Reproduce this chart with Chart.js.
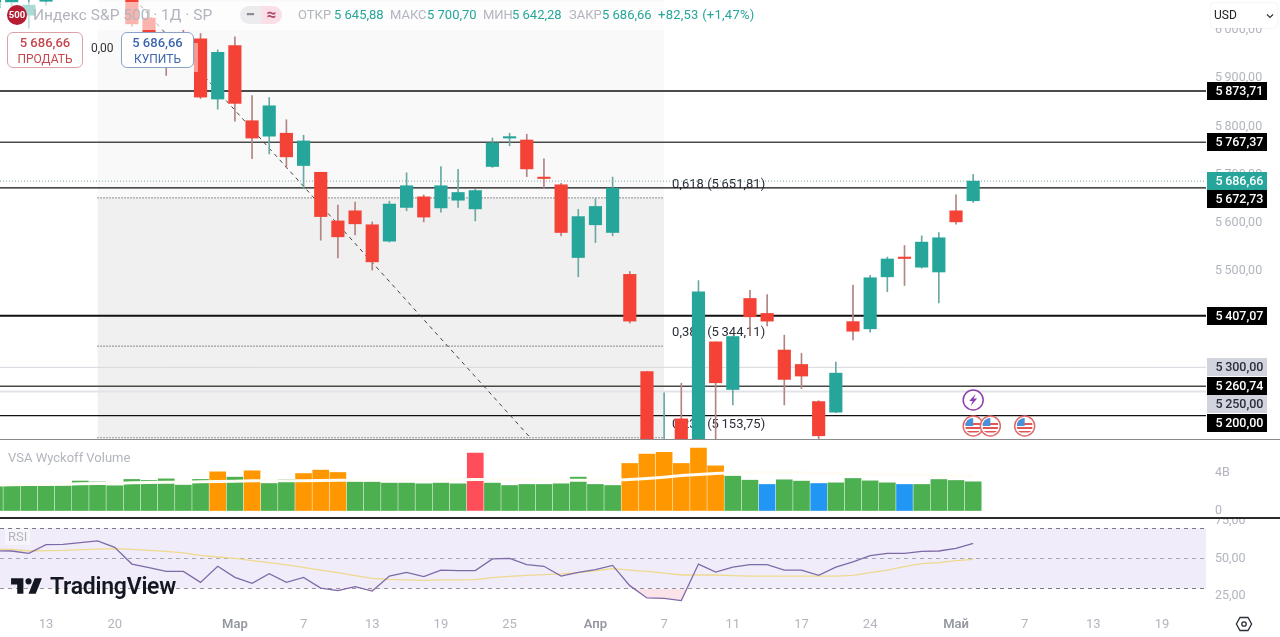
<!DOCTYPE html>
<html lang="ru">
<head>
<meta charset="utf-8">
<title>S&amp;P 500</title>
<script src="https://cdn.jsdelivr.net/npm/chart.js@4/dist/chart.umd.min.js"></script>
<style>
html,body{margin:0;padding:0;background:#fff;overflow:hidden}
body{width:1280px;height:637px;position:relative;font-family:Roboto,"Noto Sans",sans-serif}
canvas{position:absolute;left:0}
.abs{position:absolute;white-space:nowrap}
.lbl{color:#b2b5be}
.val{color:#26a69a}
.btn{background:#fff;border-radius:6px;box-sizing:border-box;text-align:center;font-size:12px;line-height:16px;padding-top:2px}
.btn b{display:block;font-size:13px;font-weight:500}
</style>
</head>
<body>
<canvas id="chart-price" width="1280" height="439" style="top:0"></canvas>
<canvas id="chart-vol" width="1280" height="78" style="top:440px"></canvas>
<canvas id="chart-rsi" width="1280" height="119" style="top:518px"></canvas>

<!-- panes -->
<div class="abs" style="left:0;top:439px;width:1280px;height:1px;background:#8a8a8a"></div>
<div class="abs" style="left:0;top:517px;width:1280px;height:2px;background:#2a2a2a"></div>
<div class="abs lbl" style="left:8px;top:450px;font-size:13px">VSA Wyckoff Volume</div>
<div class="abs lbl" style="left:5px;top:529px;padding:0 3px;height:16px;line-height:16px;font-size:13px;background:rgba(255,255,255,.45)">RSI</div>

<!-- header -->
<div class="abs" style="left:0;top:2px;width:770px;height:28px;background:rgba(255,255,255,.6)"></div>
<div class="abs" style="left:194px;top:43px;width:4px;height:29px;background:rgba(255,255,255,.45)"></div>
<div class="abs" style="left:7px;top:5px;width:20px;height:20px;border-radius:50%;background:#b71c35;color:#fff;font-size:9.5px;font-weight:700;line-height:20px;text-align:center">500</div>
<div class="abs" style="left:33px;top:6px;font-size:15.5px;color:#b2b5be">Индекс S&amp;P 500 · 1Д · SP</div>
<div class="abs" style="left:240px;top:6px;width:21px;height:18px;background:#ececee;border-radius:9px 0 0 9px;color:#8a8d96;font-weight:900;font-size:17px;line-height:17px;text-align:center">−</div>
<div class="abs" style="left:261px;top:6px;width:21px;height:18px;background:#fadfe7;border-radius:0 9px 9px 0;color:#b0416a;font-weight:700;font-size:17px;line-height:17px;text-align:center">≈</div>
<div class="abs lbl" style="left:298px;top:7px;font-size:13px">ОТКР</div><div class="abs val" style="left:334px;top:7px;font-size:13px">5 645,88</div>
<div class="abs lbl" style="left:390px;top:7px;font-size:13px">МАКС</div><div class="abs val" style="left:427px;top:7px;font-size:13px">5 700,70</div>
<div class="abs lbl" style="left:483px;top:7px;font-size:13px">МИН</div><div class="abs val" style="left:512px;top:7px;font-size:13px">5 642,28</div>
<div class="abs lbl" style="left:569px;top:7px;font-size:13px">ЗАКР</div><div class="abs val" style="left:602px;top:7px;font-size:13px">5 686,66</div>
<div class="abs val" style="left:658px;top:7px;font-size:13px;letter-spacing:.25px">+82,53 (+1,47%)</div>

<div class="abs btn" style="left:7px;top:32px;width:76px;height:36px;border:1px solid #d9a3a6;color:#c4474d"><b>5 686,66</b>ПРОДАТЬ</div>
<div class="abs" style="left:91px;top:41px;font-size:12px;color:#333">0,00</div>
<div class="abs btn" style="left:121px;top:32px;width:73px;height:36px;border:1px solid #8ba3c7;color:#3f66ad"><b>5 686,66</b>КУПИТЬ</div>

<div class="abs" style="left:1211px;top:3px;width:66px;height:25px;background:#fff;border-radius:4px;box-shadow:0 0 2px rgba(0,0,0,.12);font-size:12px;line-height:25px;color:#222;text-indent:3px">USD
  <svg class="abs" style="left:55px;top:10px" width="8" height="6" viewBox="0 0 8 6"><path d="M1 1.5 4 4.5 7 1.5" fill="none" stroke="#333" stroke-width="1.2"/></svg>
</div>

<!-- logo -->
<svg class="abs" style="left:9px;top:572px" width="37" height="29" viewBox="0 0 36 28"><path fill="#131722" d="M14 6H2v6h6v9h6V6Zm12 15h-7l6-15h7l-6 15Zm-7-9a3 3 0 1 0 0-6 3 3 0 0 0 0 6Z"/></svg>
<div class="abs" style="left:50px;top:573px;font-size:23px;font-weight:600;color:#131722;letter-spacing:-.25px">TradingView</div>

<svg class="abs" style="left:1235px;top:615px" width="18" height="18" viewBox="0 0 18 18"><path d="M5 2.5h8L16.6 9 13 15.5H5L1.4 9Z" fill="none" stroke="#2a2e39" stroke-width="1.3"/><circle cx="9" cy="9" r="2.2" fill="none" stroke="#2a2e39" stroke-width="1.3"/></svg>

<script>
// ── Data ──

// trading days counted from 13 Feb, -3 is the first bar on the left
const days=[-3,-2,-1,0,1,2,3,4,5,6,7,8,9,10,11,12,13,14,15,16,17,18,19,20,21,22,23,24,25,26,27,28,29,30,31,32,33,34,35,36,37,38,39,40,41,42,43,44,45,46,47,48,49,50,51,52,53,54];
const opens=[6046,6058,6031,6060,6115,6121,6117,6134,6115,6025,5985,5970,5982,5857,5968,5812,5780,5786,5719,5705,5604,5625,5596,5562,5632,5654,5631,5647,5629,5717,5776,5772,5695,5679,5528,5596,5580,5493,5291,4953,5193,4965,5353,5254,5443,5412,5336,5306,5229,5207,5395,5380,5488,5529,5508,5498,5625,5645.88];
const highs=[6076,6076,6065,6118,6127,6130,6147,6140,6120,6043,5995,6000,5993,5959,5986,5864,5860,5814,5782,5705,5637,5643,5602,5645,5704,5658,5717,5711,5670,5776,5786,5784,5733,5682,5628,5650,5695,5499,5292,5247,5267,5480,5353,5365,5460,5451,5367,5329,5231,5311,5471,5491,5529,5553,5573,5580,5658,5700.70];
const lows=[6040,6050,6004,6052,6100,6100,6110,6105,6008,5970,5906,5930,5858,5836,5811,5733,5743,5714,5672,5564,5527,5575,5502,5560,5625,5602,5622,5632,5604,5715,5760,5696,5672,5573,5488,5559,5573,5392,5069,4835,4948,4950,5115,5222,5367,5386,5222,5256,5150,5206,5357,5373,5457,5470,5506,5434,5597,5642.28];
const closes=[6066,6068,6052,6115,6114,6129,6144,6117,6013,5983,5955,5956,5861,5954,5848,5776,5843,5737,5770,5613,5571,5598,5519,5639,5677,5612,5677,5663,5667,5766,5779,5712,5692,5580,5613,5634,5672,5396,5074,5062,4982,5457,5268,5364,5405,5396,5275,5282,5158,5288,5375,5486,5525,5526,5560,5569,5602,5686.66];

const volumes=[2.6,2.6,2.6,2.6,2.6,3.1,3.0,2.6,3.27,3.16,3.33,2.67,3.27,4.07,3.51,4.18,2.84,3.27,3.89,4.25,4.0,3.02,3.02,2.88,2.88,2.81,2.88,2.81,6.04,2.88,2.63,2.74,2.74,2.81,3.51,2.74,2.63,4.95,5.93,6.11,4.95,6.56,4.7,3.61,3.19,2.74,3.23,3.09,2.84,2.91,3.37,3.12,2.91,2.74,2.74,3.26,3.16,3.02];
const volumeMa=[2.67,2.70,2.74,2.74,2.77,2.81,2.84,2.84,2.91,2.95,2.98,2.98,3.02,3.05,3.09,3.12,3.12,3.12,3.12,3.16,3.19,3.19,3.19,3.19,3.19,3.19,3.19,3.23,3.26,3.26,3.23,3.23,3.19,3.19,3.19,3.19,3.19,3.26,3.37,3.51,3.68,3.79,3.89,3.96,4.0,4.0,4.0,3.96,3.93,3.89,3.86,3.82,3.79,3.75,3.72,3.68,3.65,3.61];
const orangeDays=[10,12,15,16,17,34,35,36,37,38,39];
const redDays=[25];
const blueDays=[42,45,50];

const rsi=[55.2,55.0,53.4,59.2,59.4,60.6,61.7,57.4,46.3,43.9,41.4,41.4,34.1,44.8,37.4,33.4,39.9,34.1,37.4,30.3,28.6,31.2,28.3,38.3,40.8,37.9,42.3,41.9,41.9,49.7,50.1,45.9,44.8,38.3,40.8,42.6,45.4,31.9,23.7,23.4,21.9,46.3,41,44.3,45.9,45.9,42.3,42.3,38.8,44.3,47.7,51.9,53.4,53.4,54.8,55,56.8,60.1];
const rsiMa=[56.3,56.1,55,55.2,55.4,55.9,56.3,56.6,56.1,55.4,54.8,53.7,52.1,51,50.1,48.6,47.2,45.7,44.1,42.3,40.6,38.6,36.8,36.1,35.7,35.4,35.7,35.7,35.9,37.2,38.1,38.8,39.2,39.7,40.6,41.7,43.2,42.3,41.4,40.3,39,39,39,38.6,38.3,38.3,38.3,38.3,38.3,38.3,38.8,40.6,42.3,44.6,46.6,47.2,48.6,49.4];

const tickDays=[0,4,11,15,19,23,27,32,36,40,44,48,53,57,61,65];
const tickLabels=['13','20','Мар','7','13','19','25','Апр','7','11','17','24','Май','7','13','19'];
const monthDays=[11,32,53];

const priceTicks=[5500,5600,5700,5800,5900,6000];
const blackLevels=[5873.71,5767.37,5672.73,5407.07,5260.74,5200];
const greyLevels=[5300,5250];
const lastPrice=5686.66;

const fibDays=[3,36];
const fibEnds=[6150,4846];
const fibValues=[5651.81,5344.11,5153.75];
const fibNames=['0,618','0,382','0,236'];

const splitDays=[54];
const flagDays=[54,55,57];

// ── Shared options ──

const FONT='Roboto,"Noto Sans",sans-serif';
const GREY='#b2b5be',UP='#26a69a',DOWN='#f44336';
const X_MIN=-2.68,X_MAX=67.56;   // left edge at 0 px, right edge at 1206 px

function fmt(v){
  const s=v.toFixed(2).replace('.',',');
  return s[0]+'\u2009'+s.slice(1);
}
const isMonth=c=>!!c.tick&&monthDays.includes(c.tick.value);

function xAxis(show){
  return {type:'linear',display:show,min:X_MIN,max:X_MAX,offset:false,
    grid:{display:false,drawTicks:false},border:{display:false},
    afterBuildTicks:a=>{a.ticks=tickDays.map(v=>({value:v}));},
    afterFit:a=>{a.paddingLeft=a.paddingRight=0;if(show)a.height=29;},
    ticks:{autoSkip:false,maxRotation:0,padding:9,
      color:c=>isMonth(c)?'#9598a1':GREY,
      font:c=>({family:FONT,size:13,weight:isMonth(c)?'600':'400'}),
      callback:v=>tickLabels[tickDays.indexOf(v)]}};
}
function yAxis(min,max,vals,cb){
  return {position:'right',min,max,
    grid:{display:false,drawTicks:false},border:{display:false},
    afterBuildTicks:a=>{a.ticks=vals.map(v=>({value:v}));},
    afterFit:a=>{a.width=74;a.paddingTop=a.paddingBottom=0;},
    ticks:{autoSkip:false,padding:9,color:GREY,font:{family:FONT,size:12.5},callback:cb}};
}
function options(x,y){
  return {responsive:false,animation:false,events:[],
    layout:{padding:0,autoPadding:false},
    plugins:{legend:{display:false},tooltip:{enabled:false}},
    scales:{x,y}};
}
function hLine(v,color,width,dash,order){
  return {type:'line',data:[{x:X_MIN,y:v},{x:X_MAX,y:v}],borderColor:color,borderWidth:width,
    borderDash:dash||[],pointRadius:0,order};
}
function segment(v,color,dash,order){
  return {type:'line',data:fibDays.map(d=>({x:d,y:v})),borderColor:color,borderWidth:1,
    borderDash:dash,pointRadius:0,order};
}
function zone(top,bottom,color){
  return {type:'line',data:fibDays.map(d=>({x:d,y:top})),borderWidth:0,borderColor:'transparent',
    backgroundColor:color,fill:{value:bottom},pointRadius:0,order:30};
}

// ── Price pane plugin: fib captions, event icons, axis badges ──

const badges=[
  {v:5873.71,bg:'#000',fg:'#fff',nudge:0},
  {v:5767.37,bg:'#000',fg:'#fff',nudge:0},
  {v:5686.66,bg:UP,fg:'#fff',nudge:0},
  {v:5672.73,bg:'#000',fg:'#fff',nudge:11.5},
  {v:5407.07,bg:'#000',fg:'#fff',nudge:0},
  {v:5300,bg:'#d1d4dc',fg:'#2a2e39',nudge:0},
  {v:5260.74,bg:'#000',fg:'#fff',nudge:0},
  {v:5250,bg:'#d1d4dc',fg:'#2a2e39',nudge:12.5},
  {v:5200,bg:'#000',fg:'#fff',nudge:7}
];

function flagIcon(ctx,x,y){
  ctx.save();
  ctx.beginPath();ctx.arc(x,y,10,0,Math.PI*2);ctx.fillStyle='#fff';ctx.fill();
  ctx.strokeStyle='#e06a6a';ctx.lineWidth=1.5;ctx.stroke();
  ctx.beginPath();ctx.arc(x,y,8,0,Math.PI*2);ctx.clip();
  ctx.fillStyle='#e25555';
  ctx.fillRect(x-8,y-3,16,2);ctx.fillRect(x-8,y+1,16,2);ctx.fillRect(x-8,y+5,16,1.5);
  ctx.fillStyle='#4a90d9';ctx.fillRect(x-8,y-8,8,8);
  ctx.restore();
}
function splitIcon(ctx,x,y){
  ctx.save();
  ctx.beginPath();ctx.arc(x,y,10,0,Math.PI*2);ctx.fillStyle='#fff';ctx.fill();
  ctx.strokeStyle='#8e3fae';ctx.lineWidth=1.5;ctx.stroke();
  ctx.fillStyle='#8e3fae';
  ctx.beginPath();ctx.moveTo(x+2.5,y-6);ctx.lineTo(x-4,y+1);ctx.lineTo(x-.5,y+1);ctx.lineTo(x-2.5,y+6);
  ctx.lineTo(x+4,y-1.5);ctx.lineTo(x+.5,y-1.5);ctx.closePath();ctx.fill();
  ctx.restore();
}

const pricePlugin={
  id:'priceExtras',
  beforeDatasetsDraw(chart){
    const {ctx,scales:{x,y}}=chart;
    ctx.save();
    ctx.font='13px '+FONT;ctx.fillStyle='#2a2e39';ctx.textBaseline='middle';
    fibValues.forEach((v,i)=>ctx.fillText(fibNames[i]+' ('+fmt(v)+')',x.getPixelForValue(fibDays[1])+8,y.getPixelForValue(v)-13.5));
    ctx.restore();
  },
  afterDatasetsDraw(chart){
    const {ctx,scales:{x}}=chart;
    splitDays.forEach(d=>splitIcon(ctx,x.getPixelForValue(d),400));
    flagDays.forEach(d=>flagIcon(ctx,x.getPixelForValue(d),426));
  },
  afterDraw(chart){
    const {ctx,scales:{y}}=chart;
    ctx.save();
    ctx.font='500 12.5px '+FONT;ctx.textBaseline='middle';
    badges.forEach(b=>{
      const c=Math.round(y.getPixelForValue(b.v)+b.nudge);
      ctx.fillStyle=b.bg;ctx.fillRect(1207,c-9,60,18);
      ctx.fillStyle=b.fg;ctx.fillText(fmt(b.v),1215.5,c+.5);
    });
    ctx.restore();
  }
};

// ── Charts ──

function fmtRsi(v){return v.toFixed(2).replace('.',',');}
const candleData=key=>days.map((d,i)=>({x:d,y:key(i)}));
const candleColor=i=>closes[i]>=opens[i]?UP:DOWN;

new Chart(document.getElementById('chart-price'),{
  data:{datasets:[
    {type:'bar',data:candleData(i=>[opens[i],closes[i]]),backgroundColor:days.map((d,i)=>candleColor(i)),
      barThickness:12.5,grouped:false,order:2},
    {type:'bar',data:candleData(i=>[lows[i],highs[i]]),backgroundColor:days.map((d,i)=>closes[i]>=opens[i]?'#6ba9a3':'#b08583'),
      barThickness:1,grouped:false,order:3},
    {type:'line',data:fibDays.map((d,i)=>({x:d,y:fibEnds[i]})),borderColor:'#444',borderWidth:1,borderDash:[4,4],pointRadius:0,order:8},
    ...blackLevels.map((v,i)=>hLine(v,i==1||i==4?'#4a4a4a':'#111',v==5407.07?2:(i==1||i==4?1.5:1.3),null,10)),
    ...greyLevels.map((v,i)=>hLine(v,i==0?'#d6d8de':'#e2e3e8',i==0?1:2,null,11)),
    hLine(lastPrice,'#7fa6a2',1,[1,2],12),
    ...fibValues.map(v=>segment(v,'#222',[1,2],13)),
    zone(fibEnds[0],fibValues[0],'#f9f9f9'),
    zone(fibValues[0],fibValues[2],'#f0f0f0')
  ]},
  options:options(xAxis(false),yAxis(5151.3,6062.6,priceTicks,fmt)),
  plugins:[pricePlugin]
});

new Chart(document.getElementById('chart-vol'),{
  data:{datasets:[
    {type:'bar',data:days.map((d,i)=>({x:d,y:volumes[i]})),
      backgroundColor:days.map(d=>orangeDays.includes(d)?'#ff9800':redDays.includes(d)?'#ff4d5a':blueDays.includes(d)?'#2196f3':'#4caf50'),
      barThickness:16,order:2},
    {type:'line',data:days.map((d,i)=>({x:d,y:volumeMa[i]})),borderColor:'#fffcf5',borderWidth:3,pointRadius:0,order:1}
  ]},
  options:options(xAxis(false),yAxis(-0.79,7.42,[0,4],v=>v===0?'0':v+'B'))
});

new Chart(document.getElementById('chart-rsi'),{
  data:{datasets:[
    {type:'line',data:days.map((d,i)=>({x:d,y:rsi[i]})),borderColor:'#7e6aa8',borderWidth:1.3,pointRadius:0,
      fill:{target:{value:30},above:'rgba(0,0,0,0)',below:'#fbe3ea'},order:1},
    {type:'line',data:days.map((d,i)=>({x:d,y:rsiMa[i]})),borderColor:'#efd98f',borderWidth:1.3,pointRadius:0,order:2},
    {type:'line',data:[{x:X_MIN,y:70},{x:X_MAX,y:70}],borderWidth:0,borderColor:'transparent',
      backgroundColor:'#f0ecf9',fill:{value:30},pointRadius:0,order:30},
    hLine(70,'#787b86',1,[4,4],5),
    hLine(50,'#a7a4b4',1,[4,4],5),
    hLine(30,'#787b86',1,[4,4],5)
  ]},
  options:options(xAxis(true),yAxis(17,77,[25,50,75],fmtRsi))
});
</script>
</body>
</html>
